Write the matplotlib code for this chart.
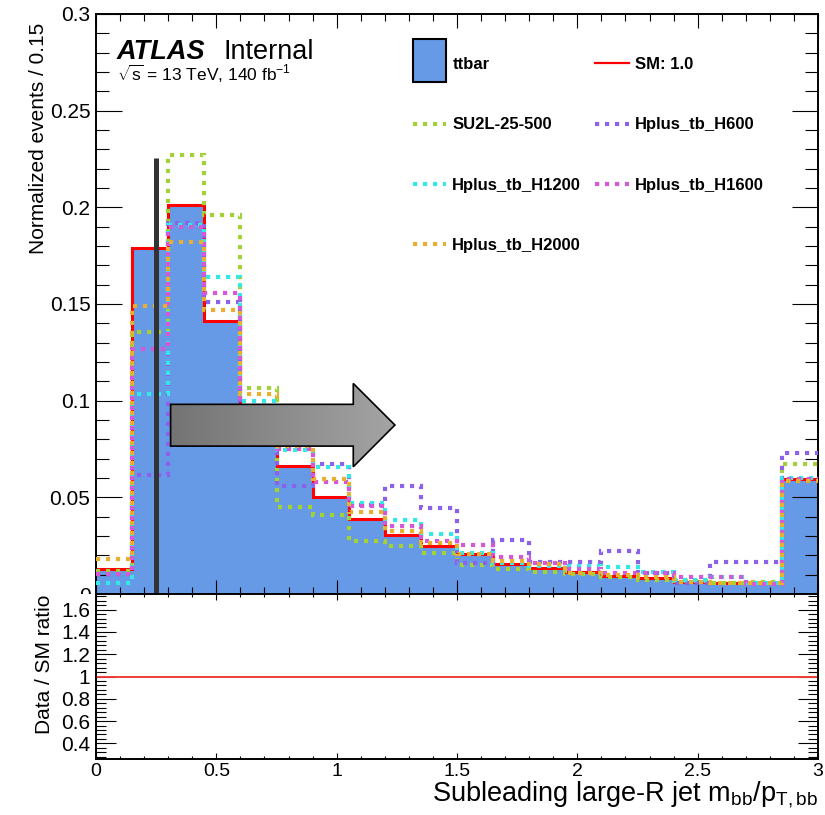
import numpy as np
import matplotlib
matplotlib.use('Agg')
import matplotlib.pyplot as plt
from matplotlib.patches import Polygon, Rectangle
from matplotlib.lines import Line2D
from matplotlib.legend_handler import HandlerPatch
from matplotlib.ticker import MultipleLocator, FuncFormatter
from matplotlib.colors import LinearSegmentedColormap

plt.rcParams['font.family'] = ['Liberation Sans', 'DejaVu Sans']
plt.rcParams['mathtext.fontset'] = 'custom'
plt.rcParams['mathtext.rm'] = 'Liberation Sans'
plt.rcParams['mathtext.it'] = 'Liberation Sans:italic'
plt.rcParams['mathtext.bf'] = 'Liberation Sans:bold'

# 20 bins of 0.15 between 0 and 3
edges = np.linspace(0, 3, 21)

ttbar = [0.013, 0.179, 0.201, 0.141, 0.086, 0.066, 0.050, 0.0386, 0.0305, 0.025,
         0.0207, 0.0155, 0.0136, 0.0115, 0.0095, 0.0083, 0.0064, 0.0057, 0.0055, 0.0593]
su2l_25_500 = [0.012, 0.1355, 0.2273, 0.196, 0.1065, 0.0452, 0.0408, 0.0274, 0.025, 0.0214,
               0.015, 0.0128, 0.0112, 0.0104, 0.009, 0.0072, 0.0067, 0.0055, 0.006, 0.0672]
hplus_h600 = [0.0105, 0.0614, 0.192, 0.151, 0.085, 0.0558, 0.0672, 0.046, 0.0558, 0.0446,
              0.0162, 0.0279, 0.0167, 0.0167, 0.0222, 0.0107, 0.0055, 0.0164, 0.0164, 0.0727]
hplus_h1200 = [0.0058, 0.1034, 0.1908, 0.164, 0.0998, 0.0744, 0.0655, 0.0472, 0.0381, 0.0309,
               0.021, 0.016, 0.0145, 0.0146, 0.0138, 0.0115, 0.0072, 0.009, 0.0055, 0.060]
hplus_h1600 = [0.0103, 0.1265, 0.1896, 0.1556, 0.090, 0.075, 0.0577, 0.0457, 0.0353, 0.0274,
               0.0253, 0.019, 0.0159, 0.0128, 0.0107, 0.011, 0.0086, 0.0086, 0.005, 0.0593]
hplus_h2000 = [0.018, 0.149, 0.182, 0.147, 0.1034, 0.0767, 0.0595, 0.0422, 0.0327, 0.0262,
               0.0207, 0.017, 0.0153, 0.0107, 0.0098, 0.009, 0.0064, 0.0055, 0.0055, 0.0586]

signal_names = ['SU2L-25-500', 'Hplus_tb_H600', 'Hplus_tb_H1200', 'Hplus_tb_H1600', 'Hplus_tb_H2000']
signal_vals = [su2l_25_500, hplus_h600, hplus_h1200, hplus_h1600, hplus_h2000]
signal_cols = ['#a3d238', '#8c62ea', '#35e8e8', '#d458d8', '#e8b030']

cut_x = 0.25
cut_top = 0.2254

fill_col = '#6699e6'
dots = (0, (1, 1.4))

W, H = 825, 815
fig = plt.figure(figsize=(W / 100, H / 100), dpi=100)
ax1 = fig.add_axes([96 / W, 1 - 594 / H, 722 / W, 580 / H])
ax2 = fig.add_axes([96 / W, 1 - 759 / H, 722 / W, 165 / H])
ax2.set_zorder(1)
# white pad under the top panel (hides the lower half of its "0" label, like ROOT)
fig.add_artist(Rectangle((0, 0), 1, 1 - 594 / H, transform=fig.transFigure,
                         facecolor='white', edgecolor='none', zorder=0.5))

# --- top panel
ax1.stairs(ttbar, edges, fill=True, color=fill_col, lw=0, zorder=1)
ax1.stairs(ttbar, edges, baseline=None, color='red', lw=2.2, zorder=2)
for vals, col in zip(signal_vals, signal_cols):
    ax1.stairs(vals, edges, baseline=None, color=col, lw=3, linestyle=dots, zorder=3)

ax1.plot([cut_x, cut_x], [0, cut_top], color='#333333', lw=3.6, solid_capstyle='butt', zorder=5)

# arrow with grey gradient
x0, xb, xt = 0.310, 1.069, 1.242
verts = [(x0, 0.0765), (xb, 0.0765), (xb, 0.0658), (xt, 0.0874),
         (xb, 0.1089), (xb, 0.0981), (x0, 0.0981)]
arrow = Polygon(verts, closed=True, facecolor='none', edgecolor='black', lw=1.2, zorder=7)
ax1.add_patch(arrow)
grey = LinearSegmentedColormap.from_list('grey', ['#747474', '#a4a4a4'])
im = ax1.imshow(np.linspace(0, 1, 256).reshape(1, -1), cmap=grey, aspect='auto',
                extent=[x0, xt, 0.0658, 0.1089], zorder=6, interpolation='bilinear')
im.set_clip_path(arrow)

ax1.set_xlim(0, 3)
ax1.set_ylim(0, 0.3)
ax1.xaxis.set_major_locator(MultipleLocator(0.5))
ax1.xaxis.set_minor_locator(MultipleLocator(0.1))
ax1.yaxis.set_major_locator(MultipleLocator(0.05))
ax1.yaxis.set_minor_locator(MultipleLocator(0.01))
ax1.yaxis.set_major_formatter(FuncFormatter(lambda v, p: '%g' % round(v, 3)))
ax1.tick_params(which='both', direction='in', top=True, right=True, width=0.8,
                labelbottom=False, labelsize=15, pad=4)
ax1.tick_params(axis='y', which='major', length=18.7)
ax1.tick_params(axis='y', which='minor', length=9.4)
ax1.tick_params(axis='x', which='major', length=10)
ax1.tick_params(axis='x', which='minor', length=5)
for s in ax1.spines.values():
    s.set_linewidth(1.4)

# legend
h_tt = Rectangle((0, 0), 1, 1, facecolor=fill_col, edgecolor='black', lw=1.5)
h_sm = Line2D([], [], color='red', lw=1.6)
h_sig = [Line2D([], [], color=c, lw=3, linestyle=dots) for c in signal_cols]


def big_box(legend, orig_handle, xdescent, ydescent, width, height, fontsize):
    return Rectangle((-xdescent, height / 2 + 2 - 15.5), width, 31)


handles = [h_tt, h_sig[0], h_sig[2], h_sig[4], h_sm, h_sig[1], h_sig[3]]
labels = ['ttbar', signal_names[0], signal_names[2], signal_names[4],
          'SM: 1.0', signal_names[1], signal_names[3]]
ax1.legend(handles, labels, ncol=2, loc='upper left', bbox_to_anchor=(413 / W, 1 - 57 / H),
           bbox_transform=fig.transFigure, frameon=False, borderpad=0, borderaxespad=0,
           prop={'weight': 'bold', 'size': 12}, handlelength=2.0, handletextpad=0.36,
           columnspacing=0.84, labelspacing=2.72,
           handler_map={h_tt: HandlerPatch(patch_func=big_box)})

# --- ratio panel
ax2.axhline(1, color='#f03c3c', lw=1.4)
ax2.set_xlim(0, 3)
ax2.set_ylim(0.26, 1.74)
ax2.xaxis.set_major_locator(MultipleLocator(0.5))
ax2.xaxis.set_minor_locator(MultipleLocator(0.1))
ax2.yaxis.set_major_locator(MultipleLocator(0.2))
ax2.yaxis.set_minor_locator(MultipleLocator(0.04))
fmt = FuncFormatter(lambda v, p: '%g' % round(v, 3))
ax2.xaxis.set_major_formatter(fmt)
ax2.yaxis.set_major_formatter(fmt)
ax2.tick_params(which='both', direction='in', top=True, right=True, width=0.8)
ax2.tick_params(axis='y', which='major', length=14.4, labelsize=15, pad=4)
ax2.tick_params(axis='y', which='minor', length=7.2)
ax2.tick_params(axis='x', which='major', length=4, labelsize=14, pad=3)
ax2.tick_params(axis='x', which='minor', length=2.2)
for s in ax2.spines.values():
    s.set_linewidth(1.4)

# --- texts
fig.text(117 / W, 1 - 59 / H, 'ATLAS', fontsize=19.5, fontweight='bold', fontstyle='italic',
         va='baseline', ha='left')
fig.text(223 / W, 1 - 59 / H, 'Internal', fontsize=19.5, va='baseline', ha='left')
fig.text(117 / W, 1 - 81 / H, r'$\sqrt{\mathregular{s}}$ = 13 TeV, 140 fb$^{\mathregular{-1}}$',
         fontsize=12.5, va='baseline', ha='left')
fig.text(39 / W, 1 - 23 / H, 'Normalized events / 0.15', rotation=90, fontsize=15,
         ha='center', va='top')
fig.text(45 / W, 1 - 595 / H, 'Data / SM ratio', rotation=90, fontsize=15,
         ha='center', va='top')
fig.text(818 / W, 1 - 801 / H,
         r'Subleading large-R jet m$_{\mathregular{bb}}$/p$_{\mathregular{T,bb}}$',
         fontsize=19.5, ha='right', va='baseline')

fig.savefig('out.png', dpi=100)
